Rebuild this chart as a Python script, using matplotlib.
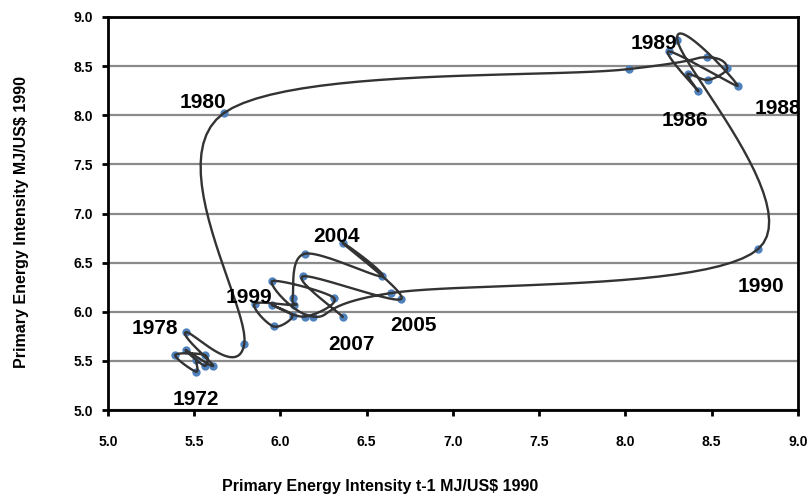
import numpy as np
import matplotlib.pyplot as plt
from matplotlib.transforms import ScaledTranslation

# Primary energy intensity (MJ/US$ 1990)
years = list(range(1970, 2008))
intensity = [5.51, 5.51, 5.39, 5.56, 5.56, 5.45, 5.61, 5.45, 5.79, 5.67,
             8.02, 8.47, 8.59, 8.48, 8.36, 8.42, 8.25, 8.65, 8.30, 8.77,
             6.64, 6.19, 5.95, 6.31, 6.14, 5.95, 6.07, 5.96, 5.85, 6.08,
             6.07, 6.14, 6.59, 6.36, 6.70, 6.13, 6.36, 5.95]

labelled_years = [1972, 1978, 1980, 1986, 1988, 1989, 1990, 1999, 2004, 2005, 2007]
# label offsets in pixels (dx right, dy down)
label_offsets = {1972: (0, 28), 1978: (-31, -4), 1980: (-21, -11), 1986: (-13, 30),
                 1988: (40, 23), 1989: (-23, 4), 1990: (3, 38), 1999: (-6, -6),
                 2004: (-6, -6), 2005: (12, 27), 2007: (9, 28)}

ticks = [5.0, 5.5, 6.0, 6.5, 7.0, 7.5, 8.0, 8.5, 9.0]
tick_labels = ["5.0", "5.5", "6.0", "6.5", "7.0", "7.5", "8.0", "8.5", "9.0"]

x = np.array(intensity[:-1])   # t-1
y = np.array(intensity[1:])    # t
pt_years = years[1:]


def smooth(px, py, n=25):
    # excel-like smoothed line (bezier, catmull-rom control points)
    pts = np.column_stack([px, py])
    p = np.vstack([pts[0], pts, pts[-1]])
    t = np.linspace(0, 1, n)[:, None]
    out = []
    for i in range(1, len(p) - 2):
        p0, p1, p2, p3 = p[i - 1], p[i], p[i + 1], p[i + 2]
        c1 = p1 + (p2 - p0) / 6
        c2 = p2 - (p3 - p1) / 6
        seg = (1 - t) ** 3 * p1 + 3 * (1 - t) ** 2 * t * c1 + 3 * (1 - t) * t ** 2 * c2 + t ** 3 * p2
        out.append(seg)
    c = np.vstack(out)
    return c[:, 0], c[:, 1]


fig = plt.figure(figsize=(8.09, 4.96), dpi=100)
ax = fig.add_axes([108 / 809, 1 - 410 / 496, 690 / 809, 393 / 496])

sx, sy = smooth(x, y)
ax.plot(x, y, 'o', color='#4f81bd', markersize=6, markeredgewidth=0, zorder=3)
ax.plot(sx, sy, color='#333333', lw=1.7, zorder=4)

for yr in labelled_years:
    i = pt_years.index(yr)
    dx, dy = label_offsets[yr]
    tr = ax.transData + ScaledTranslation(dx / 100, -dy / 100, fig.dpi_scale_trans)
    t = ax.text(x[i], y[i], str(yr), transform=tr, ha='center', va='center',
                fontsize=15, fontweight='bold', family='Liberation Sans',
                color='black', zorder=5, clip_on=True)
    t.set_clip_box(ax.bbox)

ax.set_xlim(5, 9)
ax.set_ylim(5, 9)
ax.set_xticks(ticks)
ax.set_yticks(ticks)
ax.set_xticklabels(tick_labels)
ax.set_yticklabels(tick_labels)
for lab in ax.get_xticklabels() + ax.get_yticklabels():
    lab.set_family(['Liberation Sans Narrow', 'Liberation Sans'])
    lab.set_fontweight('bold')
    lab.set_fontsize(10)
ax.tick_params(axis='x', direction='out', length=4, width=2, pad=14)
ax.tick_params(axis='y', direction='out', length=4, width=2, pad=7)
ax.yaxis.grid(True, color='#8a8a8a', lw=1.6)
ax.set_axisbelow(True)
for s in ax.spines.values():
    s.set_linewidth(2)
    s.set_color('black')

fig.text(22 / 809, 1 - 222 / 496, "Primary Energy Intensity MJ/US$ 1990", rotation=90,
         ha='center', va='center', fontsize=11.5, fontweight='bold',
         family=['Liberation Sans Narrow', 'Liberation Sans'])
fig.text(380 / 809, 1 - 487 / 496, "Primary Energy Intensity t-1 MJ/US$ 1990",
         ha='center', va='center', fontsize=11.5, fontweight='bold',
         family=['Liberation Sans Narrow', 'Liberation Sans'])

fig.savefig("out.png", dpi=100)
